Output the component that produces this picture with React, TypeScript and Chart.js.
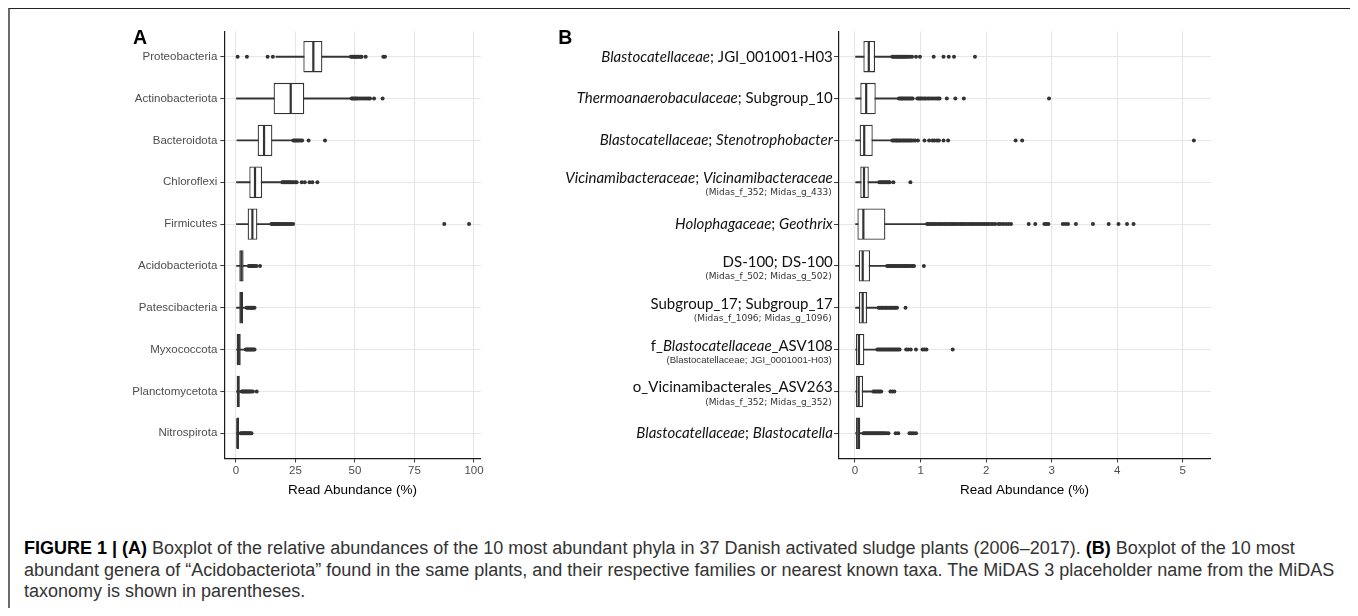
import React, { useEffect, useLayoutEffect, useRef } from 'react';
import { Chart, registerables } from 'chart.js';

Chart.register(...registerables);

const FONT_SANS = "'Liberation Sans', Arial, Helvetica, sans-serif";
const FONT_LABEL_B = "Lato, 'Open Sans', sans-serif";
const FONT_SUB_B = "'DejaVu Sans', Verdana, sans-serif";

// ---------------- Panel A: phyla ----------------
const phylaNames = [
  'Proteobacteria', 'Actinobacteriota', 'Bacteroidota', 'Chloroflexi', 'Firmicutes',
  'Acidobacteriota', 'Patescibacteria', 'Myxococcota', 'Planctomycetota', 'Nitrospirota',
];
const phylaWhiskerLow = [16.8, 0.0, 0.4, 0.0, 0.0, 0.0, 0.0, 0.0, 0.0, 0.0];
const phylaQ1 = [28.3, 15.8, 9.1, 5.6, 4.9, 1.4, 1.4, 0.3, 0.3, 0.0];
const phylaMedian = [32.5, 23.0, 11.8, 8.0, 6.9, 2.3, 2.2, 1.2, 0.9, 0.6];
const phylaQ3 = [36.3, 28.7, 15.3, 11.0, 9.0, 3.2, 3.0, 2.0, 1.6, 1.3];
const phylaWhiskerHigh = [47.9, 48.3, 23.8, 19.2, 14.6, 5.2, 4.2, 3.8, 2.1, 1.7];
const phylaOutliers = [
  [0.7, 4.6, 13.3, 15.5, 48.3, 48.8, 49.3, 49.8, 50.2, 50.7, 51.2, 51.7, 52.3, 52.8, 54.5, 61.9, 62.6],
  [48.6, 49.1, 49.6, 50.1, 50.6, 51.1, 51.9, 52.6, 53.4, 54.2, 55.0, 55.7, 56.3, 58.0, 61.6],
  [24.1, 24.6, 25.1, 25.6, 26.1, 26.6, 27.2, 27.8, 30.5, 37.4],
  [19.5, 20.0, 20.5, 21.0, 21.5, 22.0, 22.5, 23.0, 23.6, 24.2, 24.9, 25.5, 27.6, 28.9, 30.9, 32.1, 34.2],
  [14.9, 15.4, 15.9, 16.4, 16.9, 17.4, 17.9, 18.4, 19.0, 19.6, 20.3, 21.0, 21.7, 22.4, 23.2, 24.0, 87.5, 97.9],
  [5.4, 5.8, 6.2, 6.6, 7.0, 7.5, 8.0, 8.6, 10.1],
  [4.5, 4.9, 5.3, 5.7, 6.1, 6.5, 6.9, 7.3, 7.8],
  [4.1, 4.5, 4.9, 5.3, 5.7, 6.1, 6.5, 6.9, 7.3, 7.8],
  [2.4, 2.8, 3.2, 3.6, 4.0, 4.4, 4.8, 5.2, 5.6, 6.0, 6.5, 7.1, 8.7],
  [2.0, 2.4, 2.8, 3.2, 3.6, 4.0, 4.4, 4.8, 5.2, 5.6, 6.0, 6.5],
];
const phylaTicks = [0, 25, 50, 75, 100];
const phylaRange = [-4.9, 102.8];

// ---------------- Panel B: Acidobacteriota genera ----------------
// text between asterisks is drawn in italics
const genusLabels = [
  '*Blastocatellaceae*; JGI_001001-H03',
  '*Thermoanaerobaculaceae*; Subgroup_10',
  '*Blastocatellaceae*; *Stenotrophobacter*',
  '*Vicinamibacteraceae*; *Vicinamibacteraceae*',
  '*Holophagaceae*; *Geothrix*',
  'DS-100; DS-100',
  'Subgroup_17; Subgroup_17',
  'f_*Blastocatellaceae*_ASV108',
  'o_Vicinamibacterales_ASV263',
  '*Blastocatellaceae*; *Blastocatella*',
];
const genusSubLabels = [
  '', '', '',
  '(Midas_f_352; Midas_g_433)',
  '',
  '(Midas_f_502; Midas_g_502)',
  '(Midas_f_1096; Midas_g_1096)',
  '(Blastocatellaceae; JGI_0001001-H03)',
  '(Midas_f_352; Midas_g_352)',
  '',
];
const genusWhiskerLow = [0.0, 0.0, 0.0, 0.01, 0.0, 0.0, 0.0, 0.0, 0.0, 0.0];
const genusQ1 = [0.127, 0.08, 0.07, 0.08, 0.036, 0.056, 0.06, 0.015, 0.015, 0.015];
const genusMedian = [0.21, 0.17, 0.14, 0.137, 0.127, 0.117, 0.117, 0.06, 0.056, 0.05];
const genusQ3 = [0.305, 0.316, 0.27, 0.21, 0.463, 0.229, 0.183, 0.142, 0.122, 0.08];
const genusWhiskerHigh = [0.56, 0.66, 0.56, 0.36, 1.09, 0.48, 0.351, 0.33, 0.27, 0.117];
const genusOutliers = [
  [0.57, 0.59, 0.61, 0.63, 0.65, 0.66, 0.68, 0.70, 0.72, 0.73, 0.75, 0.77, 0.79, 0.81, 0.84, 0.87, 0.93, 0.99, 1.20, 1.35, 1.43, 1.51, 1.83],
  [0.67, 0.69, 0.71, 0.72, 0.74, 0.76, 0.78, 0.80, 0.82, 0.84, 0.86, 0.88, 0.95, 0.97, 0.99, 1.01, 1.03, 1.06, 1.08, 1.11, 1.13, 1.16, 1.19, 1.22, 1.25, 1.27, 1.29, 1.40, 1.53, 1.66, 2.96],
  [0.57, 0.59, 0.61, 0.63, 0.64, 0.66, 0.68, 0.70, 0.72, 0.74, 0.76, 0.78, 0.80, 0.82, 0.84, 0.86, 0.89, 0.92, 0.96, 1.06, 1.13, 1.18, 1.21, 1.25, 1.28, 1.35, 1.42, 2.45, 2.55, 5.17],
  [0.37, 0.39, 0.41, 0.43, 0.45, 0.47, 0.49, 0.51, 0.53, 0.585, 0.845],
  [1.10, 1.12, 1.15, 1.17, 1.20, 1.22, 1.25, 1.28, 1.30, 1.33, 1.36, 1.38, 1.41, 1.44, 1.47, 1.49, 1.52, 1.55, 1.58, 1.61, 1.63, 1.66, 1.69, 1.72, 1.75, 1.78, 1.80, 1.83, 1.86, 1.89, 1.92, 1.95, 1.98, 2.01, 2.04, 2.08, 2.11, 2.14, 2.19, 2.22, 2.26, 2.30, 2.34, 2.38, 2.65, 2.75, 2.89, 2.92, 2.95, 3.17, 3.21, 3.25, 3.37, 3.63, 3.87, 4.02, 4.15, 4.25],
  [0.49, 0.51, 0.53, 0.55, 0.57, 0.59, 0.61, 0.63, 0.65, 0.67, 0.69, 0.71, 0.73, 0.75, 0.77, 0.79, 0.81, 0.83, 0.86, 0.88, 0.90, 1.05],
  [0.36, 0.38, 0.40, 0.42, 0.44, 0.46, 0.48, 0.50, 0.52, 0.54, 0.56, 0.58, 0.60, 0.62, 0.64, 0.77],
  [0.34, 0.36, 0.38, 0.40, 0.42, 0.44, 0.46, 0.48, 0.50, 0.52, 0.54, 0.56, 0.58, 0.60, 0.62, 0.64, 0.66, 0.68, 0.78, 0.81, 0.85, 0.93, 1.03, 1.06, 1.09, 1.49],
  [0.28, 0.30, 0.32, 0.34, 0.36, 0.38, 0.40, 0.54, 0.57, 0.60],
  [0.13, 0.15, 0.17, 0.19, 0.21, 0.23, 0.25, 0.27, 0.29, 0.31, 0.33, 0.35, 0.37, 0.39, 0.41, 0.43, 0.45, 0.48, 0.51, 0.62, 0.66, 0.83, 0.86, 0.89, 0.93],
];
const genusTicks = [0, 1, 2, 3, 4, 5];
const genusRange = [-0.2585, 5.4285];

const axisTitle = 'Read Abundance (%)';

// ---------------- helpers ----------------
function splitItalic(label: string) {
  return label
    .split('*')
    .map((text, k) => ({ text, italic: k % 2 === 1 }))
    .filter((p) => p.text.length > 0);
}

const genusLabelPlugin = {
  id: 'genusLabels',
  afterDraw(chart: any) {
    const scale = chart.scales.y;
    const ctx = chart.ctx;
    const right = scale.right - 5.3;
    const mainFont = (it: boolean) => `${it ? 'italic ' : ''}400 15px ${FONT_LABEL_B}`;
    ctx.save();
    genusLabels.forEach((label, i) => {
      const py = scale.getPixelForValue(i);
      const parts = splitItalic(label);
      const sub = genusSubLabels[i];
      let total = 0;
      const widths = parts.map((p) => {
        ctx.font = mainFont(p.italic);
        const w = ctx.measureText(p.text).width;
        total += w;
        return w;
      });
      let x = right - total;
      ctx.fillStyle = '#111111';
      ctx.textAlign = 'left';
      ctx.textBaseline = sub ? 'alphabetic' : 'middle';
      const yMain = sub ? py + 1 : py;
      parts.forEach((p, k) => {
        ctx.font = mainFont(p.italic);
        ctx.fillText(p.text, x, yMain);
        x += widths[k];
      });
      if (sub) {
        const sans = sub.startsWith('(Blasto');
        ctx.font = sans ? `9.6px ${FONT_SANS}` : `9px ${FONT_SUB_B}`;
        ctx.fillStyle = '#333333';
        ctx.textAlign = 'right';
        ctx.textBaseline = 'middle';
        ctx.fillText(sub, right - 1, py + 10.8);
      }
    });
    ctx.restore();
  },
};

type PanelSpec = {
  names: string[];
  lo: number[];
  q1: number[];
  med: number[];
  q3: number[];
  hi: number[];
  out: number[][];
  ticks: number[];
  range: number[];
  axisWidth: number;
  padRight: number;
  showNames: boolean;
  plugins: any[];
};

const CHART_TOP = 21.6;
const X_AXIS_HEIGHT = 51.6;

function makeConfig(p: PanelSpec): any {
  const idx = p.names.map((_, i) => i);
  const grid = {
    color: '#e6e6e6',
    lineWidth: 1.1,
    tickColor: '#333333',
    tickLength: 4,
    tickWidth: 1,
    drawTicks: true,
  };
  return {
    type: 'bar',
    data: {
      datasets: [
        {
          type: 'bar',
          label: 'whisker',
          data: idx.map((i) => ({ x: [p.lo[i], p.hi[i]], y: i })),
          backgroundColor: '#333333',
          borderWidth: 0,
          barThickness: 1.2,
          grouped: false,
          order: 4,
        },
        {
          type: 'bar',
          label: 'box',
          data: idx.map((i) => ({ x: [p.q1[i], p.q3[i]], y: i })),
          backgroundColor: '#ffffff',
          borderColor: '#333333',
          borderWidth: 1.3,
          borderSkipped: false,
          barPercentage: 0.75,
          categoryPercentage: 1,
          grouped: false,
          order: 3,
        },
        {
          type: 'scatter',
          label: 'median',
          data: idx.map((i) => ({ x: p.med[i], y: i })),
          pointStyle: 'line',
          pointRotation: 90,
          pointRadius: 15,
          pointBorderColor: '#333333',
          pointBorderWidth: 2.2,
          order: 2,
        },
        {
          type: 'scatter',
          label: 'outliers',
          data: idx.flatMap((i) => p.out[i].map((v) => ({ x: v, y: i }))),
          pointStyle: 'circle',
          pointRadius: 2,
          pointBackgroundColor: '#333333',
          pointBorderWidth: 0,
          order: 1,
        },
      ],
    },
    options: {
      responsive: false,
      animation: false,
      indexAxis: 'y',
      events: [],
      layout: { padding: { left: 0, right: p.padRight, top: CHART_TOP, bottom: 0 } },
      plugins: { legend: { display: false }, tooltip: { enabled: false } },
      scales: {
        x: {
          type: 'linear',
          min: p.range[0],
          max: p.range[1],
          afterBuildTicks: (s: any) => {
            s.ticks = p.ticks.map((v) => ({ value: v }));
          },
          afterFit: (s: any) => {
            s.height = X_AXIS_HEIGHT;
          },
          grid,
          border: { display: true, color: '#1a1a1a', width: 1.2 },
          ticks: {
            autoSkip: false,
            maxRotation: 0,
            padding: 1.2,
            color: '#4d4d4d',
            font: { family: FONT_SANS, size: 11.5 },
          },
          title: {
            display: true,
            text: axisTitle,
            color: '#000000',
            font: { family: FONT_SANS, size: 13.5 },
            padding: { top: 0, bottom: 11.9 },
          },
        },
        y: {
          type: 'linear',
          min: -0.6,
          max: p.names.length - 0.4,
          reverse: true,
          offset: false,
          afterBuildTicks: (s: any) => {
            s.ticks = idx.map((i) => ({ value: i }));
          },
          afterFit: (s: any) => {
            s.width = p.axisWidth;
          },
          grid: { ...grid, offset: false },
          border: { display: true, color: '#1a1a1a', width: 1.2 },
          ticks: {
            autoSkip: false,
            padding: 3,
            color: '#4d4d4d',
            font: { family: FONT_SANS, size: 11.5 },
            callback: (v: number) => (p.showNames ? p.names[v] : ''),
          },
        },
      },
    },
    plugins: p.plugins,
  };
}

const panelA: PanelSpec = {
  names: phylaNames,
  lo: phylaWhiskerLow,
  q1: phylaQ1,
  med: phylaMedian,
  q3: phylaQ3,
  hi: phylaWhiskerHigh,
  out: phylaOutliers,
  ticks: phylaTicks,
  range: phylaRange,
  axisWidth: 124.3,
  padRight: 19.3,
  showNames: true,
  plugins: [],
};

const panelB: PanelSpec = {
  names: genusLabels.map((l) => l.replace(/\*/g, '')),
  lo: genusWhiskerLow,
  q1: genusQ1,
  med: genusMedian,
  q3: genusQ3,
  hi: genusWhiskerHigh,
  out: genusOutliers,
  ticks: genusTicks,
  range: genusRange,
  axisWidth: 298.1,
  padRight: 29.2,
  showNames: false,
  plugins: [genusLabelPlugin],
};

function BoxPanel({ spec, left, top, width, height }: { spec: PanelSpec; left: number; top: number; width: number; height: number }) {
  const ref = useRef<HTMLCanvasElement | null>(null);
  useEffect(() => {
    if (!ref.current) return;
    const chart = new Chart(ref.current, makeConfig(spec));
    return () => chart.destroy();
  }, [spec]);
  return (
    <div style={{ position: 'absolute', left, top, width, height }}>
      <canvas ref={ref} width={width} height={height} style={{ display: 'block' }} />
    </div>
  );
}

const captionLine = (top: number): React.CSSProperties => ({
  position: 'absolute',
  left: 16,
  top,
  whiteSpace: 'nowrap',
  fontFamily: FONT_SANS,
  fontSize: 18,
  lineHeight: '21.5px',
  color: '#333333',
});

const letterStyle = (left: number): React.CSSProperties => ({
  position: 'absolute',
  left,
  top: 18.5,
  fontFamily: FONT_SANS,
  fontWeight: 700,
  fontSize: 19.5,
  lineHeight: '20px',
  color: '#000000',
});

export default function App() {
  useLayoutEffect(() => {
    document.documentElement.style.overflow = 'hidden';
    document.body.style.overflow = 'hidden';
    document.body.style.background = '#ffffff';
  }, []);
  return (
    <div style={{ position: 'relative', width: 1342, height: 600 }}>
      <div
        style={{
          position: 'absolute',
          left: -0.5,
          top: -0.5,
          width: 1347.5,
          height: 660,
          boxSizing: 'border-box',
          borderTop: '1.5px solid #222222',
          borderLeft: '2px solid #6b6b6b',
          borderRight: '2px solid #6b6b6b',
        }}
      />
      <BoxPanel spec={panelA} left={92} top={2} width={400} height={500} />
      <BoxPanel spec={panelB} left={532} top={2} width={700} height={500} />
      <div style={letterStyle(125)}>A</div>
      <div style={letterStyle(550.3)}>B</div>
      <div style={captionLine(530)}>
        <b style={{ color: '#000' }}>FIGURE 1 | (A)</b> Boxplot of the relative abundances of the 10 most abundant phyla in 37 Danish activated sludge plants (2006–2017). <b style={{ color: '#000' }}>(B)</b> Boxplot of the 10 most
      </div>
      <div style={captionLine(551.5)}>
        abundant genera of “Acidobacteriota” found in the same plants, and their respective families or nearest known taxa. The MiDAS 3 placeholder name from the MiDAS
      </div>
      <div style={captionLine(573)}>taxonomy is shown in parentheses.</div>
    </div>
  );
}
